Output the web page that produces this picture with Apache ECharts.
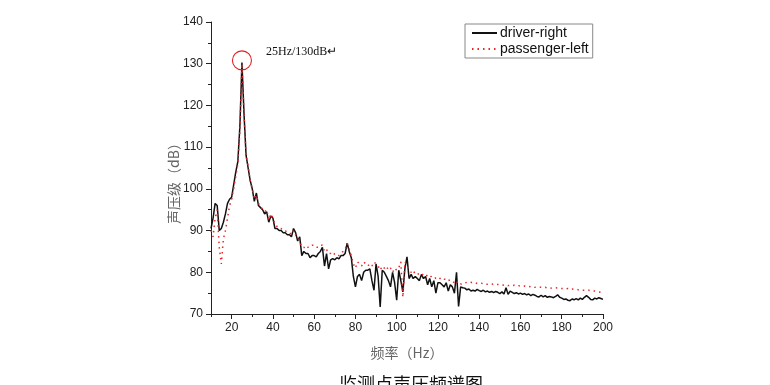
<!DOCTYPE html>
<html>
<head>
<meta charset="utf-8">
<script src="https://cdn.jsdelivr.net/npm/echarts@6/dist/echarts.min.js"></script>
<style>html,body{margin:0;padding:0;background:#fff}#c{width:770px;height:385px}</style>
</head>
<body>
<div id="c"></div>
<script>
// frequency grid (Hz), 1 Hz steps from 10 to 200
const freqStart = 10, freqEnd = 200;
const freqs = [];
for (let f = freqStart; f <= freqEnd; f++) freqs.push(f);

const seriesNames = ['driver-right', 'passenger-left'];

// driver-right, dB, f = 10..200
const driverRight = [
 90.5,93,96.5,96,90,90.5,92,94,96.5,97.5,
 98,101,104,106.5,115,130.3,118,108,105,102,
 100,97,99,96,95.5,95,94,94.5,92,93.5,
 93,90.5,90.5,90,90,89.5,89.5,89,89,88.5,
 90.5,89.5,87.5,88.5,84,85,84.5,84.5,83.5,84,
 84,83.7,84.5,85,86,81.5,84.5,80.8,83,83.3,
 83,83.5,83.2,84,84,84.5,87,85,83.5,79,
 76.5,79,79.5,78,80,80.5,80.5,80.8,78,75.7,
 82,79,71.7,80.5,80,79,78,76.5,80,77.5,
 73.3,80.5,78,75.3,81,83.7,78.5,79.5,78.5,79,
 78.5,78,79.5,78.5,79,77,78.5,76.5,78,75,
 77.5,77.5,77,76.5,77.5,75.5,77,76.5,75,80,
 71.8,76.5,76.3,76.2,75.8,76,75.5,75.7,75.5,75.9,
 75.6,75.4,75.7,75.3,75.5,75.2,75.4,75.1,75.4,75.2,
 74.9,75.3,74.8,76.3,74.7,75.5,75.2,74.9,75.1,74.8,
 75,74.7,74.9,74.6,74.8,74.4,74.7,74.5,74.2,74.1,
 74.5,74.1,74.4,74,74.2,74.1,73.9,74.2,74.6,74,
 73.8,73.5,73.6,73.3,73.2,73.6,73.4,73.7,73.4,73.8,
 73.5,74,74.4,74,73.5,73.4,73.8,73.6,73.9,73.7,
 73.5
];

// passenger-left, dB, f = 10..200
const passengerLeft = [
 90,88.5,93,95,86,82,88,90,93,96,
 97.5,100,103,106,114,130,118,108,105.5,102,
 100,97.5,98.5,96.5,96,95,94.5,95,92.5,94,
 93,91.5,91,90.5,90.5,90,90,89.5,89.5,89,
 90,89,88.5,87.5,86,86,85.5,86,86,86.5,
 86.5,86,86,86.5,86.5,85,85.5,84.5,84.5,84,
 84.5,84.5,84,84.5,85,85.5,87,85.5,84,82,
 81,82.5,82,81.5,82.5,82,81.5,82,81.5,82.5,
 82,81.5,80.5,81.5,81,81.5,80.5,81,80,81,
 80.5,81,82.5,74,82.5,81.5,80.5,80,80.5,79.5,
 79.7,79.5,79.8,79.2,79.5,79,79.3,78.8,79,78.5,
 78.8,78.5,78.7,78.3,78.5,78,78.2,77.8,77.5,78,
 77,77.2,77.1,77.4,77.6,77.7,77.6,77.4,77.5,77.3,
 77.3,77.4,77.2,77.3,77.1,77.2,77.1,77.2,77,77.1,
 77.1,77,76.9,77,76.8,76.9,76.8,76.9,76.7,76.8,
 76.7,76.6,76.7,76.5,76.6,76.5,76.6,76.4,76.5,76.4,
 76.4,76.3,76.4,76.2,76.3,76.2,76.3,76.2,76.3,76.2,
 76.1,76.1,76,76.1,75.9,76,75.9,75.9,75.8,75.8,
 75.7,75.7,75.6,75.7,75.6,75.5,75.5,75.4,75.3,75.2,
 75.1
];

const xMajorTicks = [20,40,60,80,100,120,140,160,180,200];
const xMinorTicks = [10,30,50,70,90,110,130,150,170,190];
const peakMark = [25, 130.8];
const peakNote = '25Hz/130dB\u21b5';
const xName = '频率（Hz）';
const yName = '声压级（dB）';
const titleText = '监测点声压频谱图';

const pairs = (vals) => freqs.map((f, i) => [f, vals[i]]);

const chart = echarts.init(document.getElementById('c'), null, {renderer: 'canvas'});
const axisColor = '#222';
chart.setOption({
  animation: false,
  backgroundColor: '#fff',
  grid: {left: 211, top: 22, width: 392, height: 292, containLabel: false},
  legend: {
    orient: 'vertical', left: 465, top: 24,
    padding: [2, 4, 2, 6], itemGap: 2, itemWidth: 25, itemHeight: 14,
    borderColor: '#888', borderWidth: 1,
    itemStyle: {opacity: 0},
    textStyle: {fontFamily: 'Liberation Sans, Arial', fontSize: 14, color: '#111', padding: [0,0,0,-2]},
    data: seriesNames
  },
  xAxis: [{
    type: 'value', min: freqStart, max: freqEnd,
    axisLine: {show: true, onZero: false, lineStyle: {color: axisColor, width: 1}},
    axisTick: {show: true, inside: false, length: 5, customValues: xMajorTicks, lineStyle: {color: axisColor}},
    axisLabel: {customValues: xMajorTicks, margin: 8, fontFamily: 'Liberation Sans, Arial', fontSize: 12, color: '#222'},
    splitLine: {show: false},
    name: xName, nameLocation: 'middle', nameGap: 32,
    nameTextStyle: {fontFamily: 'Noto Sans CJK SC, Liberation Sans', fontSize: 14, color: '#666'}
  }, {
    type: 'value', min: freqStart, max: freqEnd, position: 'bottom', gridIndex: 0,
    axisLine: {show: false},
    axisTick: {show: true, length: 3, customValues: xMinorTicks, lineStyle: {color: axisColor}},
    axisLabel: {show: false},
    splitLine: {show: false}
  }],
  yAxis: {
    type: 'value', min: 70, max: 140, interval: 10,
    axisLine: {show: true, onZero: false, lineStyle: {color: axisColor, width: 1}},
    axisTick: {show: true, length: 5, lineStyle: {color: axisColor}},
    minorTick: {show: true, splitNumber: 2, length: 3, lineStyle: {color: axisColor}},
    axisLabel: {margin: 8, fontFamily: 'Liberation Sans, Arial', fontSize: 12, color: '#222'},
    splitLine: {show: false}
  },
  series: [{
    name: seriesNames[0], type: 'line', data: pairs(driverRight),
    symbol: 'none', showSymbol: false, z: 2,
    lineStyle: {color: '#111', width: 1.5},
    itemStyle: {color: '#111'},
    markPoint: {
      silent: true,
      symbol: 'circle', symbolSize: 19,
      itemStyle: {color: 'rgba(0,0,0,0)', borderColor: '#e02020', borderWidth: 1.1},
      label: {show: false},
      data: [{coord: peakMark}]
    }
  }, {
    name: seriesNames[1], type: 'line', data: pairs(passengerLeft),
    symbol: 'none', showSymbol: false, z: 3,
    lineStyle: {color: '#e8262a', width: 1.5, type: [1.5, 4]},
    itemStyle: {color: '#e8262a'}
  }],
  graphic: [{
    type: 'text', left: 266, top: 46,
    style: {text: peakNote, font: '12px "Liberation Serif", "Times New Roman", serif', fill: '#111'}
  }, {
    type: 'text', x: 174, y: 180, rotation: Math.PI / 2,
    style: {text: yName, font: '14px "Noto Sans CJK SC", "Liberation Sans"', fill: '#666', align: 'center', verticalAlign: 'middle'}
  }, {
    type: 'text', x: 411, y: 375,
    style: {text: titleText, font: '18px "Noto Sans CJK SC"', fill: '#111', align: 'center', verticalAlign: 'top'}
  }]
});
</script>
</body>
</html>
